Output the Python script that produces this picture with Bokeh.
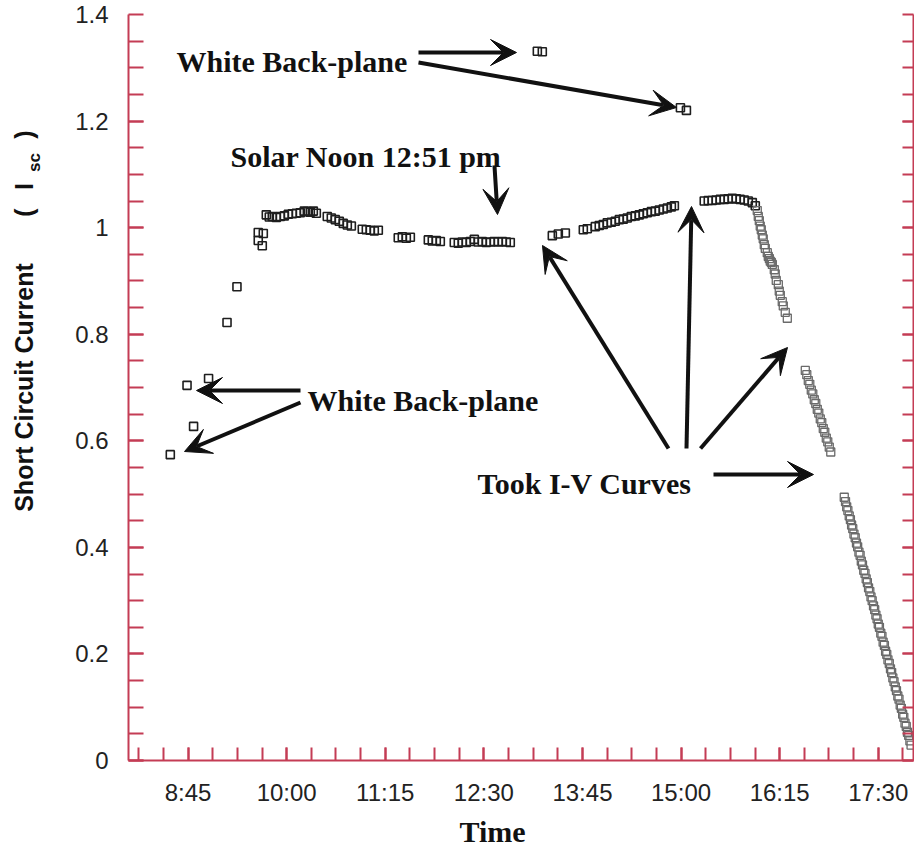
import math
from bokeh.plotting import figure
from bokeh.layouts import row
from bokeh.models import (Label, Arrow, VeeHead, FixedTicker, LinearAxis, Range1d, Title)
from bokeh.embed import file_html
from bokeh.resources import INLINE

# ---------------- data (time in decimal hours, Isc normalised) ----------------
day_time = [8.525, 8.737, 8.820, 9.010, 9.244, 9.370,
            9.640, 9.640, 9.691, 9.704,
            9.742, 9.780, 9.818, 9.869, 9.920, 9.970, 10.021, 10.072, 10.123, 10.173,
            10.224, 10.262, 10.300, 10.338, 10.376,
            10.515, 10.566, 10.617, 10.667, 10.718, 10.769, 10.820,
            10.959, 11.010, 11.060, 11.111, 11.162,
            11.415, 11.466, 11.517, 11.568,
            11.796, 11.846, 11.897, 11.948,
            12.125, 12.176, 12.227, 12.277, 12.328, 12.379, 12.430, 12.480, 12.531,
            12.582, 12.632, 12.683, 12.734, 12.784, 12.835,
            13.178, 13.241,
            13.368, 13.444, 13.533,
            13.761, 13.811, 13.913, 13.963, 14.014, 14.065, 14.116, 14.166, 14.217,
            14.268, 14.318, 14.369, 14.420, 14.471, 14.521, 14.572, 14.623, 14.674,
            14.724, 14.775, 14.826, 14.877, 14.915,
            14.992, 15.068,
            15.294, 15.345, 15.395, 15.446, 15.497, 15.548, 15.598, 15.649, 15.700,
            15.750, 15.801, 15.852, 15.903, 15.941]
day_isc = [0.574, 0.704, 0.627, 0.717, 0.822, 0.889,
           0.976, 0.991, 0.966, 0.989,
           1.024, 1.020, 1.021, 1.019, 1.021, 1.022, 1.025, 1.026, 1.027, 1.028,
           1.031, 1.030, 1.029, 1.031, 1.027,
           1.021, 1.018, 1.015, 1.012, 1.008, 1.005, 1.003,
           0.997, 0.996, 0.995, 0.994, 0.995,
           0.981, 0.983, 0.980, 0.982,
           0.977, 0.975, 0.976, 0.974,
           0.972, 0.971, 0.973, 0.972, 0.974, 0.978, 0.973, 0.974, 0.972,
           0.973, 0.974, 0.973, 0.974, 0.973, 0.972,
           1.331, 1.330,
           0.985, 0.988, 0.990,
           0.996, 0.998, 1.002, 1.004, 1.006, 1.009, 1.010, 1.012, 1.015,
           1.016, 1.018, 1.021, 1.022, 1.024, 1.026, 1.028, 1.030, 1.031,
           1.033, 1.035, 1.037, 1.039, 1.041,
           1.225, 1.220,
           1.050, 1.051, 1.051, 1.052, 1.053, 1.053, 1.054, 1.055, 1.054,
           1.053, 1.052, 1.050, 1.047, 1.041]

dusk_time = [15.966, 15.979, 15.992, 16.004, 16.017, 16.030, 16.042, 16.055, 16.068,
             16.093, 16.106, 16.119, 16.131, 16.144, 16.157, 16.182, 16.194, 16.207,
             16.233, 16.245, 16.258, 16.283, 16.296, 16.321, 16.347,
             16.575, 16.594, 16.613, 16.632, 16.651, 16.670, 16.689, 16.708, 16.727,
             16.746, 16.765, 16.784, 16.803, 16.822, 16.841, 16.860, 16.879, 16.898,
             17.069, 17.085, 17.100, 17.115, 17.132, 17.147, 17.162, 17.177, 17.192,
             17.208, 17.224, 17.239, 17.255, 17.270, 17.285, 17.300, 17.316, 17.332,
             17.347, 17.362, 17.377, 17.393, 17.408, 17.423, 17.440, 17.455, 17.470,
             17.485, 17.500, 17.515, 17.532, 17.547, 17.562, 17.578, 17.593, 17.608,
             17.623, 17.640, 17.655, 17.670, 17.685, 17.700, 17.716, 17.731, 17.748,
             17.763, 17.778, 17.793, 17.809, 17.824, 17.839, 17.855, 17.870, 17.886,
             17.901, 17.916]
dusk_isc = [1.032, 1.021, 1.013, 1.003, 0.996, 0.986, 0.979, 0.968, 0.961,
            0.953, 0.946, 0.942, 0.937, 0.935, 0.931, 0.921, 0.913, 0.901,
            0.893, 0.881, 0.873, 0.861, 0.853, 0.841, 0.830,
            0.732, 0.724, 0.713, 0.706, 0.695, 0.688, 0.677, 0.670, 0.659,
            0.652, 0.641, 0.634, 0.623, 0.616, 0.605, 0.598, 0.588, 0.579,
            0.494, 0.486, 0.476, 0.469, 0.459, 0.452, 0.442, 0.435, 0.425,
            0.418, 0.408, 0.401, 0.391, 0.385, 0.374, 0.367, 0.357, 0.351,
            0.341, 0.334, 0.324, 0.317, 0.307, 0.300, 0.290, 0.283, 0.273,
            0.266, 0.256, 0.250, 0.239, 0.233, 0.222, 0.216, 0.205, 0.199,
            0.189, 0.182, 0.172, 0.165, 0.155, 0.148, 0.138, 0.131, 0.121,
            0.115, 0.104, 0.098, 0.087, 0.081, 0.070, 0.064, 0.053, 0.047,
            0.037, 0.029]

x_tick_values = [8.75, 10.0, 11.25, 12.5, 13.75, 15.0, 16.25, 17.5]
x_tick_labels = ["8:45", "10:00", "11:15", "12:30", "13:45", "15:00", "16:15", "17:30"]
y_tick_values = [0, 0.2, 0.4, 0.6, 0.8, 1.0, 1.2, 1.4]
y_tick_labels = ["0", "0.2", "0.4", "0.6", "0.8", "1", "1.2", "1.4"]

# ---------------- layout ----------------
W, H = 914, 851
LW = 60                      # width of the side panel holding the y title
L, R, T, B = 128, 1, 14, 91  # frame borders measured on the full page
FW, FH = W - L - R, H - T - B
X0 = 7.995
X1 = X0 + FW / 78.88
Y0, Y1 = 0.0, 1.4

def fx(px):
    return X0 + (px - L) / FW * (X1 - X0)

def fy(py):
    return Y0 + (T + FH - py) / FH * (Y1 - Y0)

AX = "#c43c55"
INK = "#111111"
SERIF = "Liberation Serif"

p = figure(width=W - LW, height=H, x_range=Range1d(X0, X1), y_range=Range1d(Y0, Y1),
           output_backend="svg", toolbar_location=None,
           min_border_left=L - LW, min_border_right=R, min_border_top=T,
           min_border_bottom=B)
p.grid.visible = False
p.outline_line_color = None

x_minor = [8.125 + 0.3125 * i for i in range(32)]
y_minor = [0.05 * i for i in range(29)]

xa = p.xaxis[0]
xa.ticker = FixedTicker(ticks=x_tick_values, minor_ticks=x_minor)
xa.major_label_overrides = dict(zip(x_tick_values, x_tick_labels))
ya = p.yaxis[0]
ya.ticker = FixedTicker(ticks=y_tick_values, minor_ticks=y_minor)
ya.major_label_overrides = dict(zip(y_tick_values, y_tick_labels))

ra = LinearAxis(ticker=FixedTicker(ticks=y_tick_values, minor_ticks=y_minor))
ra.major_label_overrides = {v: "" for v in y_tick_values}
ra.major_label_standoff = 0
p.add_layout(ra, "right")

for ax, tl in ((xa, 13), (ya, 15), (ra, 11)):
    ax.axis_line_color = AX
    ax.axis_line_width = 2
    ax.major_tick_line_color = AX
    ax.minor_tick_line_color = AX
    ax.major_tick_line_width = 2
    ax.minor_tick_line_width = 2
    ax.major_tick_in = tl
    ax.major_tick_out = 0
    ax.minor_tick_in = tl
    ax.minor_tick_out = 0
    ax.major_label_text_font = "Liberation Sans"
    ax.major_label_text_font_size = "24px"
    ax.major_label_text_color = "#222222"
xa.major_label_standoff = 18
ya.major_label_standoff = 20

# x title
p.add_layout(Title(text="Time", align="left", offset=331, standoff=8,
                   text_font=SERIF, text_font_size="30px", text_font_style="bold",
                   text_color=INK), "below")

# ---------------- data marks ----------------
p.scatter(day_time, day_isc, marker="square", size=8, fill_color=None,
          line_color="#1e1e1e", line_width=1.6)
p.scatter(dusk_time, dusk_isc, marker="square", size=8, fill_color=None,
          line_color="#6a6a6a", line_width=1.3)

# ---------------- annotations ----------------
def note(text, px, py):
    p.add_layout(Label(x=fx(px), y=fy(py), text=text, text_font=SERIF,
                       text_font_size="30px", text_font_style="bold",
                       text_color=INK, text_align="left",
                       text_baseline="alphabetic"))

note("White Back-plane", 176, 61)
note("Solar Noon 12:51 pm", 230, 156)
note("White Back-plane", 307, 400)
note("Took I-V Curves", 477, 483)

arrows = [((418, 52), (516, 52)),
          ((418, 62), (676, 107)),
          ((494, 165), (497, 214)),
          ((300, 390), (196, 390)),
          ((300, 402), (184, 451)),
          ((668, 448), (542, 245)),
          ((686, 448), (691, 206)),
          ((700, 448), (787, 347)),
          ((713, 474), (813, 474))]
for (sx, sy), (ex, ey) in arrows:
    p.add_layout(Arrow(end=VeeHead(size=26, fill_color=INK, line_color=INK),
                       x_start=fx(sx), y_start=fy(sy), x_end=fx(ex), y_end=fy(ey),
                       line_width=4, line_color=INK))

# ---------------- side panel with the rotated y title ----------------
# its frame is aligned with the main frame (rows share frame top/bottom),
# so the y range is expressed directly in page pixels of that frame
side = figure(width=LW, height=H, x_range=Range1d(0, LW), y_range=Range1d(T + FH, T),
              output_backend="svg", toolbar_location=None,
              x_axis_location=None, y_axis_location=None,
              min_border_left=0, min_border_right=0, min_border_top=T,
              min_border_bottom=B)
side.grid.visible = False
side.outline_line_color = None

def ylab(text, px, py, size="25px"):
    side.add_layout(Label(x=px, y=py, text=text, angle=math.pi / 2,
                          text_font="Liberation Sans", text_font_size=size,
                          text_font_style="bold", text_color=INK,
                          text_align="center", text_baseline="middle"))

ylab("Short Circuit Current", 23, 387)
ylab("(", 23, 212)
ylab("I", 23, 186)
ylab("sc", 34, 162, "17px")
ylab(")", 23, 134)

layout = row(side, p, spacing=0)
open("out.html", "w").write(file_html(layout, INLINE))
